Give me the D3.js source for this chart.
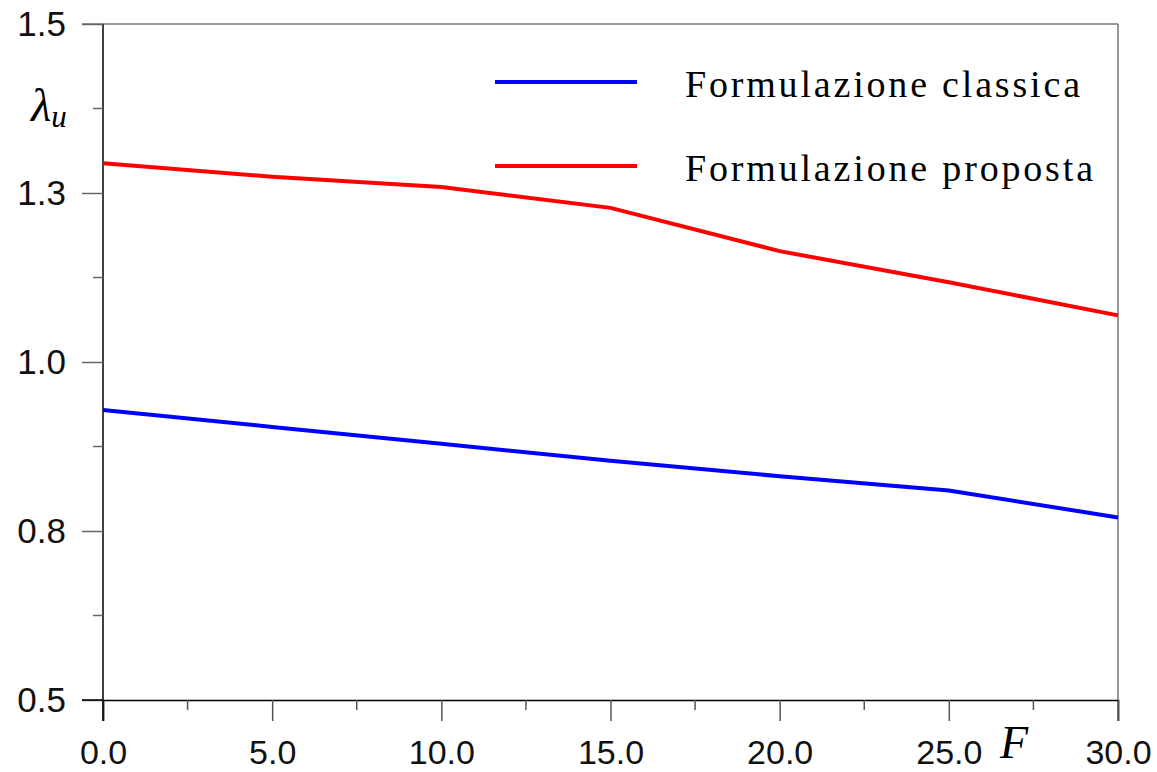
<!DOCTYPE html>
<html>
<head>
<meta charset="utf-8">
<script src="https://cdn.jsdelivr.net/npm/d3@7"></script>
<style>
  body { margin: 0; background: #fff; }
  .tick text { font-family: "Liberation Sans", Arial, sans-serif; fill: #111; }
</style>
</head>
<body>
<div id="chart"></div>
<script>
// data
let fValues = [0, 5, 10, 15, 20, 25, 30];
let classica = [0.929, 0.904, 0.879, 0.854, 0.831, 0.810, 0.770];
let proposta = [1.294, 1.274, 1.259, 1.228, 1.164, 1.118, 1.069];
let seriesNames = ["Formulazione classica", "Formulazione proposta"];
let xTicks = [0, 5, 10, 15, 20, 25, 30];
let xTickLabels = ["0.0", "5.0", "10.0", "15.0", "20.0", "25.0", "30.0"];
let xMinor = [2.5, 7.5, 12.5, 17.5, 22.5, 27.5];
let yTicks = [0.5, 0.75, 1.0, 1.25, 1.5];
let yTickLabels = ["0.5", "0.8", "1.0", "1.3", "1.5"];
let yMinor = [0.625, 0.875, 1.125, 1.375];

let svgWidth = 1157;
let svgHeight = 772;
let margin = { top: 24, right: 39, bottom: 72, left: 103 };
let width = svgWidth - margin.left - margin.right;
let height = svgHeight - margin.top - margin.bottom;

let svg = d3.select("#chart").append("svg")
  .attr("width", svgWidth)
  .attr("height", svgHeight);

let g = svg.append("g")
  .attr("transform", `translate(${margin.left}, ${margin.top})`);

let x = d3.scaleLinear().domain([0, 30]).range([0, width]);
let y = d3.scaleLinear().domain([0.5, 1.5]).range([height, 0]);

// frame: top and right in gray
g.append("line")
  .attr("x1", -21).attr("x2", width).attr("y1", y(1.5)).attr("y2", y(1.5))
  .attr("stroke", "#777").attr("stroke-width", 1.5);
g.append("line")
  .attr("x1", x(30)).attr("x2", x(30)).attr("y1", 0).attr("y2", height + 21)
  .attr("stroke", "#777").attr("stroke-width", 1.5);

// x axis
let xAxis = g.append("g")
  .attr("transform", `translate(0, ${height})`)
  .call(d3.axisBottom(x).tickValues(xTicks).tickSize(21).tickPadding(19)
    .tickFormat((d, i) => xTickLabels[i]));
xAxis.select(".domain").attr("stroke", "#000").attr("stroke-width", 1.5);
xAxis.selectAll(".tick line").attr("stroke", "#555").attr("stroke-width", 1.5);
xAxis.selectAll(".tick text").attr("font-size", 34);
g.append("g")
  .attr("transform", `translate(0, ${height})`)
  .selectAll("line").data(xMinor).enter().append("line")
  .attr("x1", d => x(d)).attr("x2", d => x(d))
  .attr("y1", 0).attr("y2", 10)
  .attr("stroke", "#555").attr("stroke-width", 1.5);

// y axis
let yAxis = g.append("g")
  .call(d3.axisLeft(y).tickValues(yTicks).tickSize(21).tickPadding(16)
    .tickFormat((d, i) => yTickLabels[i]));
yAxis.select(".domain").attr("stroke", "#000").attr("stroke-width", 1.5)
  .attr("d", `M0,0V${height + 21}`);
yAxis.selectAll(".tick line").attr("stroke", "#666").attr("stroke-width", 1.5);
yAxis.selectAll(".tick text").attr("font-size", 35);
g.append("g")
  .selectAll("line").data(yMinor).enter().append("line")
  .attr("x1", -10).attr("x2", 0)
  .attr("y1", d => y(d)).attr("y2", d => y(d))
  .attr("stroke", "#666").attr("stroke-width", 1.5);

// bottom domain extends left to the 0.5 tick
g.append("line")
  .attr("x1", -21).attr("x2", 0).attr("y1", height).attr("y2", height)
  .attr("stroke", "#000").attr("stroke-width", 1.5);

// lines
let line = d3.line()
  .x((d, i) => x(fValues[i]))
  .y(d => y(d));

g.append("path").datum(classica)
  .attr("fill", "none").attr("stroke", "#0000ff").attr("stroke-width", 4)
  .attr("d", line);
g.append("path").datum(proposta)
  .attr("fill", "none").attr("stroke", "#ff0000").attr("stroke-width", 4)
  .attr("d", line);

// legend
let legendColors = ["#0000ff", "#ff0000"];
let legendY = [82, 166];
let legendW = [395, 408];
seriesNames.forEach(function(name, i) {
  svg.append("line")
    .attr("x1", 495).attr("x2", 637)
    .attr("y1", legendY[i]).attr("y2", legendY[i])
    .attr("stroke", legendColors[i]).attr("stroke-width", 4);
  svg.append("text")
    .attr("x", 685).attr("y", legendY[i] + 15)
    .attr("font-family", "'Liberation Serif', 'Times New Roman', serif")
    .attr("font-size", 38)
    .attr("textLength", legendW[i])
    .attr("lengthAdjust", "spacing")
    .attr("fill", "#000")
    .text(name);
});

// axis titles
let lam = svg.append("text")
  .attr("x", 31).attr("y", 121)
  .attr("font-family", "'Liberation Serif', 'Times New Roman', serif")
  .attr("font-style", "italic")
  .attr("font-size", 47)
  .attr("fill", "#000");
lam.append("tspan").text("λ");
lam.append("tspan").attr("font-size", 31).attr("dy", 6).text("u");

svg.append("text")
  .attr("x", 1000).attr("y", 758)
  .attr("font-family", "'Liberation Serif', 'Times New Roman', serif")
  .attr("font-style", "italic")
  .attr("font-size", 46)
  .attr("fill", "#000")
  .text("F");
</script>
</body>
</html>
